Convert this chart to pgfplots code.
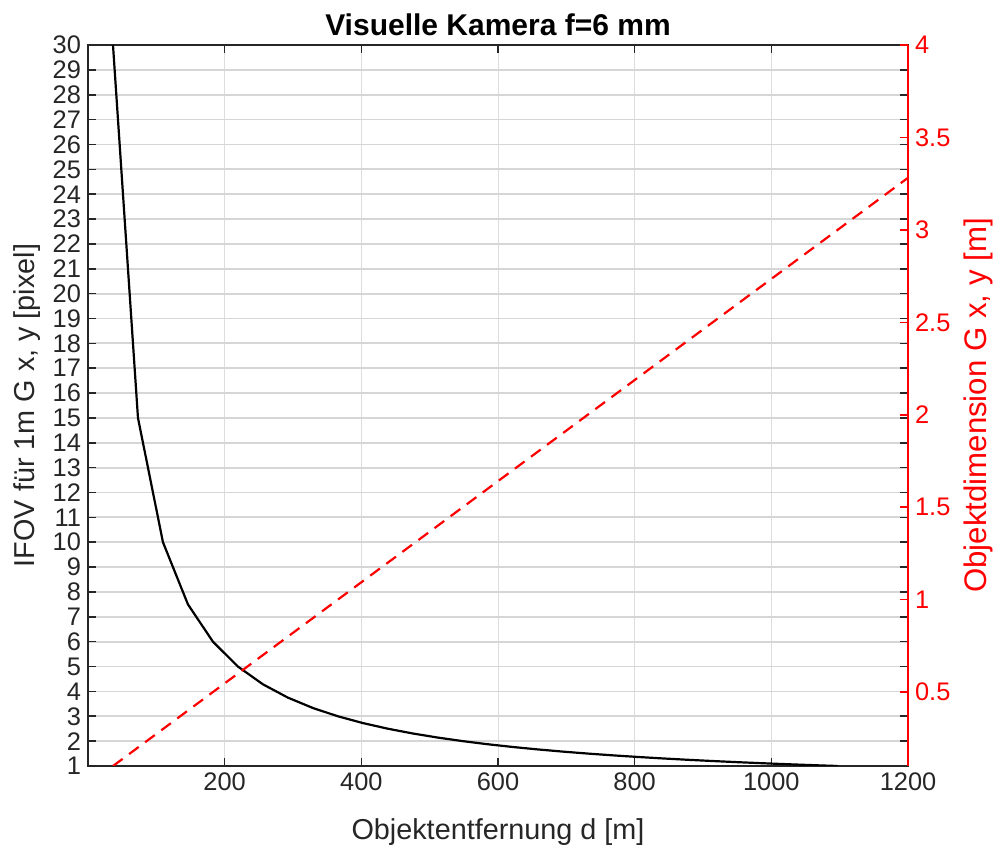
\documentclass[border=0pt]{standalone}
\usepackage{pgfplots}
\pgfplotsset{compat=1.18}
\usepackage{fontspec}
\setmainfont{Liberation Sans}
\definecolor{axc}{HTML}{262626}
\definecolor{grd}{HTML}{D6D6D6}
\definecolor{grdv}{HTML}{DDDDDD}
\pgfplotstableread{
d y
36.567 30
73.133 15
109.70 10
146.27 7.5
182.83 6
219.40 5
255.97 4.2857
292.53 3.75
329.10 3.3333
365.67 3
402.23 2.7273
438.80 2.5
475.37 2.3077
511.93 2.1429
548.50 2
585.07 1.875
621.63 1.7647
658.20 1.6667
694.77 1.5789
731.33 1.5
767.90 1.4286
804.47 1.3636
841.03 1.3043
877.60 1.25
914.17 1.2
950.73 1.1538
987.30 1.1111
1023.87 1.0714
1060.43 1.0345
1097.00 1
}\ifov
\pgfplotstableread{
d g
36.567 0.1
1200 3.2817
}\objdim
\begin{document}
\begin{tikzpicture}
\useasboundingbox (-44pt,-39.5pt) rectangle (453.5pt,383pt);
\begin{axis}[
  scale only axis, width=410pt, height=360.5pt,
  xmin=0, xmax=1200, ymin=1, ymax=30,
  xtick={200,400,...,1200}, ytick={1,2,...,30},
  tick align=inside, major tick length=4pt,
  tick style={axc, line width=0.8pt},
  axis line style={axc, line width=0.8pt},
  ticklabel style={font=\fontsize{12.7}{12.7}\selectfont, text=axc},
  /pgf/number format/assume math mode=true,
  /pgf/number format/1000 sep={},
  xmajorgrids, ymajorgrids,
  x grid style={grdv, line width=0.5pt},
  y grid style={grd, line width=0.9pt},
  ylabel={IFOV für 1m G x, y [pixel]},
  xlabel={Objektentfernung d [m]},
  label style={font=\fontsize{14.4}{14.4}\selectfont, text=axc},
  xlabel style={yshift=-7pt},
  ylabel style={yshift=-1pt},
  title={\bfseries Visuelle Kamera f=6 mm},
  title style={font=\fontsize{15}{15}\selectfont, yshift=-5pt},
  ytick pos=both, xtick pos=both,
]
\addplot[black, line width=1.1pt] table[x=d, y=y] {\ifov};
\end{axis}
\begin{axis}[
  scale only axis, width=410pt, height=360.5pt,
  xmin=0, xmax=1200, ymin=0.1, ymax=4,
  axis x line=none,
  axis y line*=right,
  ytick={0.5,1,...,4},
  yticklabels={0.5,1,1.5,2,2.5,3,3.5,4},
  tick align=inside, major tick length=4pt,
  tick style={red, line width=0.8pt},
  axis line style={red, line width=0.8pt},
  ticklabel style={font=\fontsize{12.7}{12.7}\selectfont, text=red},
  ylabel={Objektdimension G x, y [m]},
  ylabel style={font=\fontsize{15.6}{15.6}\selectfont, text=red, yshift=0pt},
]
\addplot[red, line width=1.1pt, dash pattern=on 6pt off 4pt] table[x=d, y=g] {\objdim};
\end{axis}
\end{tikzpicture}
\end{document}
